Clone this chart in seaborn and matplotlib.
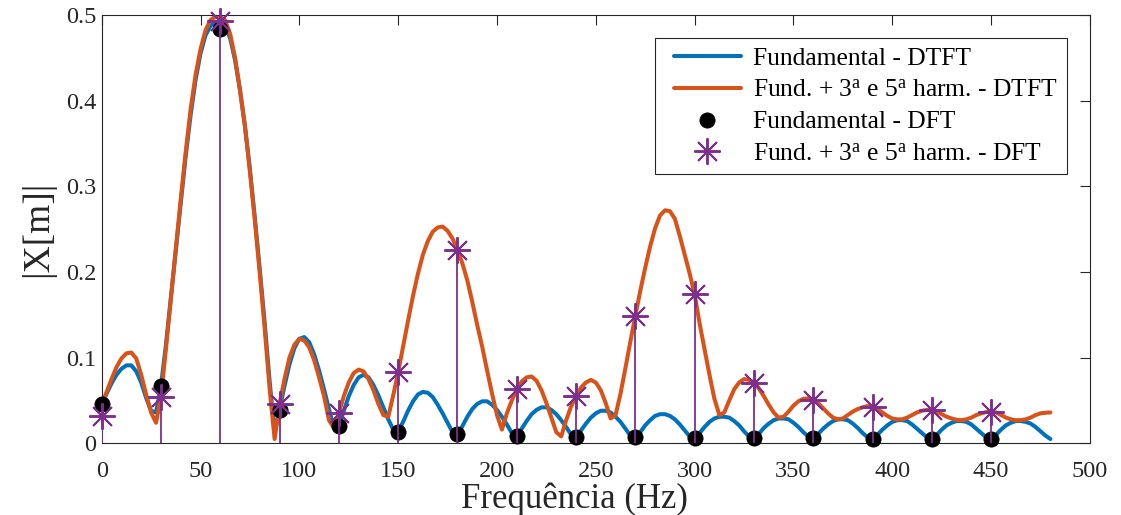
import numpy as np
import matplotlib
matplotlib.use("Agg")
import matplotlib.pyplot as plt
from matplotlib.lines import Line2D
from matplotlib.legend_handler import HandlerLine2D
import seaborn as sns

# Frequency grid of the DTFT curves (Hz)
freq_dtft = np.arange(0, 480.01, 2.5)

# |X| of the fundamental alone (DTFT)
fund_dtft = [
    0.046, 0.058, 0.070, 0.080, 0.087, 0.091, 0.091, 0.084, 0.071, 0.053, 0.038, 0.036,
    0.067, 0.115, 0.170, 0.225, 0.280, 0.335, 0.383, 0.424, 0.455, 0.476, 0.487, 0.491,
    0.490, 0.486, 0.473, 0.447, 0.412, 0.370, 0.320, 0.263, 0.203, 0.140, 0.072, 0.012,
    0.039, 0.067, 0.092, 0.111, 0.122, 0.124, 0.118, 0.104, 0.085, 0.063, 0.040, 0.018,
    0.020, 0.038, 0.055, 0.068, 0.077, 0.080, 0.077, 0.068, 0.056, 0.042, 0.028, 0.016,
    0.014, 0.025, 0.038, 0.049, 0.057, 0.060, 0.059, 0.054, 0.045, 0.035, 0.024, 0.013,
    0.011, 0.020, 0.031, 0.040, 0.046, 0.049, 0.049, 0.045, 0.039, 0.031, 0.022, 0.012,
    0.009, 0.017, 0.026, 0.034, 0.039, 0.042, 0.042, 0.039, 0.034, 0.027, 0.019, 0.010,
    0.008, 0.015, 0.023, 0.030, 0.035, 0.038, 0.038, 0.036, 0.031, 0.025, 0.017, 0.009,
    0.007, 0.013, 0.021, 0.027, 0.032, 0.034, 0.034, 0.032, 0.028, 0.022, 0.015, 0.008,
    0.007, 0.012, 0.019, 0.025, 0.029, 0.031, 0.031, 0.030, 0.026, 0.021, 0.014, 0.008,
    0.006, 0.011, 0.018, 0.023, 0.027, 0.029, 0.029, 0.028, 0.024, 0.019, 0.013, 0.008,
    0.006, 0.011, 0.017, 0.022, 0.026, 0.028, 0.028, 0.027, 0.023, 0.018, 0.012, 0.007,
    0.0055, 0.010, 0.016, 0.021, 0.025, 0.027, 0.027, 0.026, 0.022, 0.017, 0.012, 0.007,
    0.0054, 0.010, 0.016, 0.021, 0.024, 0.026, 0.026, 0.025, 0.022, 0.017, 0.012, 0.007,
    0.0054, 0.010, 0.016, 0.021, 0.024, 0.026, 0.026, 0.025, 0.023, 0.019, 0.014, 0.009,
    0.005,
]

# |X| of fundamental + 3rd and 5th harmonics (DTFT)
harm_dtft = [
    0.044, 0.060, 0.075, 0.089, 0.099, 0.105, 0.106, 0.099, 0.080, 0.057, 0.036, 0.024,
    0.054, 0.110, 0.168, 0.226, 0.285, 0.340, 0.390, 0.430, 0.460, 0.482, 0.494, 0.498,
    0.498, 0.494, 0.478, 0.450, 0.412, 0.370, 0.317, 0.260, 0.198, 0.133, 0.063, 0.005,
    0.046, 0.075, 0.100, 0.115, 0.122, 0.120, 0.112, 0.097, 0.077, 0.055, 0.027, 0.018,
    0.035, 0.055, 0.071, 0.082, 0.086, 0.084, 0.075, 0.062, 0.046, 0.033, 0.031, 0.056,
    0.083, 0.113, 0.143, 0.172, 0.198, 0.220, 0.236, 0.247, 0.252, 0.253, 0.248, 0.239,
    0.226, 0.210, 0.190, 0.165, 0.138, 0.113, 0.085, 0.058, 0.033, 0.016, 0.035, 0.050,
    0.063, 0.072, 0.077, 0.078, 0.073, 0.062, 0.047, 0.030, 0.013, 0.008, 0.027, 0.043,
    0.055, 0.065, 0.071, 0.074, 0.071, 0.062, 0.047, 0.029, 0.033, 0.058, 0.088, 0.119,
    0.149, 0.178, 0.205, 0.230, 0.251, 0.266, 0.272, 0.271, 0.262, 0.242, 0.220, 0.198,
    0.174, 0.140, 0.110, 0.080, 0.052, 0.033, 0.036, 0.050, 0.063, 0.071, 0.075, 0.074,
    0.071, 0.064, 0.055, 0.045, 0.036, 0.030, 0.031, 0.037, 0.044, 0.049, 0.052, 0.0525,
    0.051, 0.047, 0.041, 0.035, 0.030, 0.028, 0.029, 0.033, 0.037, 0.040, 0.042, 0.0435,
    0.0425, 0.040, 0.036, 0.032, 0.029, 0.028, 0.028, 0.030, 0.033, 0.036, 0.038, 0.039,
    0.039, 0.037, 0.034, 0.031, 0.029, 0.0275, 0.027, 0.028, 0.030, 0.033, 0.035, 0.0365,
    0.037, 0.036, 0.033, 0.030, 0.028, 0.027, 0.027, 0.028, 0.030, 0.033, 0.035, 0.0357,
    0.036,
]

# DFT bins (Hz) and magnitudes
freq_dft = [0, 30, 60, 90, 120, 150, 180, 210, 240, 270, 300, 330, 360, 390, 420, 450]
fund_dft = [0.046, 0.067, 0.484, 0.039, 0.020, 0.0136, 0.0108, 0.0089,
            0.0077, 0.0070, 0.0066, 0.0062, 0.0058, 0.0056, 0.0055, 0.0054]
harm_dft = [0.032, 0.054, 0.493, 0.046, 0.035, 0.083, 0.2256, 0.063,
            0.055, 0.149, 0.174, 0.0707, 0.051, 0.042, 0.0389, 0.036]

x_ticks = [0, 50, 100, 150, 200, 250, 300, 350, 400, 450, 500]
x_tick_labels = ["0", "50", "100", "150", "200", "250", "300", "350", "400", "450", "500"]
y_ticks = [0, 0.1, 0.2, 0.3, 0.4, 0.5]
y_tick_labels = ["0", "0.1", "0.2", "0.3", "0.4", "0.5"]

labels = [
    "Fundamental - DTFT",
    "Fund. + 3$^{\\mathrm{a}}$ e 5$^{\\mathrm{a}}$ harm. - DTFT",
    "Fundamental - DFT",
    "Fund. + 3$^{\\mathrm{a}}$ e 5$^{\\mathrm{a}}$ harm. - DFT",
]

BLUE = "#0072BD"
ORANGE = "#D95319"
PURPLE = "#7E2F8E"
AXIS = "#262626"

sns.set_theme(style="white")
plt.rcParams["font.family"] = ["Liberation Serif", "DejaVu Serif"]
plt.rcParams["mathtext.fontset"] = "custom"
plt.rcParams["mathtext.rm"] = "Liberation Serif"
plt.rcParams["mathtext.it"] = "Liberation Serif:italic"
plt.rcParams["mathtext.bf"] = "Liberation Serif:bold"

fig = plt.figure(figsize=(11.21, 5.15), dpi=100)
ax = fig.add_axes([0.0907, 0.1392, 0.8816, 0.8317])

sns.lineplot(x=freq_dtft, y=fund_dtft, color=BLUE, linewidth=2.9,
             label=labels[0], ax=ax, zorder=2)
sns.lineplot(x=freq_dtft, y=harm_dtft, color=ORANGE, linewidth=2.9,
             label=labels[1], ax=ax, zorder=2.1)
sns.lineplot(x=freq_dft, y=fund_dft, color="black", linestyle="none",
             marker="o", markersize=11, markeredgecolor="black",
             markeredgewidth=0.5, label=labels[2], ax=ax, zorder=3,
             clip_on=False)
ax.vlines(freq_dft, 0, harm_dft, color=PURPLE, linewidth=1.3, zorder=4)
sns.lineplot(x=freq_dft, y=harm_dft, color=PURPLE, linestyle="none",
             marker=(8, 2, 0), markersize=19, markeredgecolor=PURPLE,
             markeredgewidth=1.4, label=labels[3], ax=ax, zorder=5,
             clip_on=False)

ax.set_xlim(0, 500)
ax.set_ylim(0, 0.5)
ax.set_xticks(x_ticks)
ax.set_xticklabels(x_tick_labels)
ax.set_yticks(y_ticks)
ax.set_yticklabels(y_tick_labels)
ax.tick_params(direction="in", length=7, width=0.8, colors=AXIS,
               labelcolor=AXIS, labelsize=17.5, top=True, right=True)
ax.tick_params(axis="x", pad=13)
ax.tick_params(axis="y", pad=4)
for sp in ax.spines.values():
    sp.set_visible(True)
    sp.set_color(AXIS)
    sp.set_linewidth(0.8)

ax.set_xlabel("Frequência (Hz)", fontsize=25, color=AXIS, labelpad=0)
ax.xaxis.label.set_x(0.478)
ax.set_ylabel("|X[m]|", fontsize=27, color=AXIS, labelpad=8)

handles, labs = ax.get_legend_handles_labels()
leg = ax.legend(handles, labs, loc="upper right", fontsize=18.4,
                frameon=True, fancybox=False, framealpha=1,
                edgecolor=AXIS, handlelength=3.0, handletextpad=0.5,
                labelspacing=0.35, borderpad=0.35, borderaxespad=0.9,
                handler_map={Line2D: HandlerLine2D(xpad=0.4)})
leg.get_frame().set_linewidth(0.8)
for t in leg.get_texts():
    t.set_color("black")

fig.savefig("out.png", dpi=100)
